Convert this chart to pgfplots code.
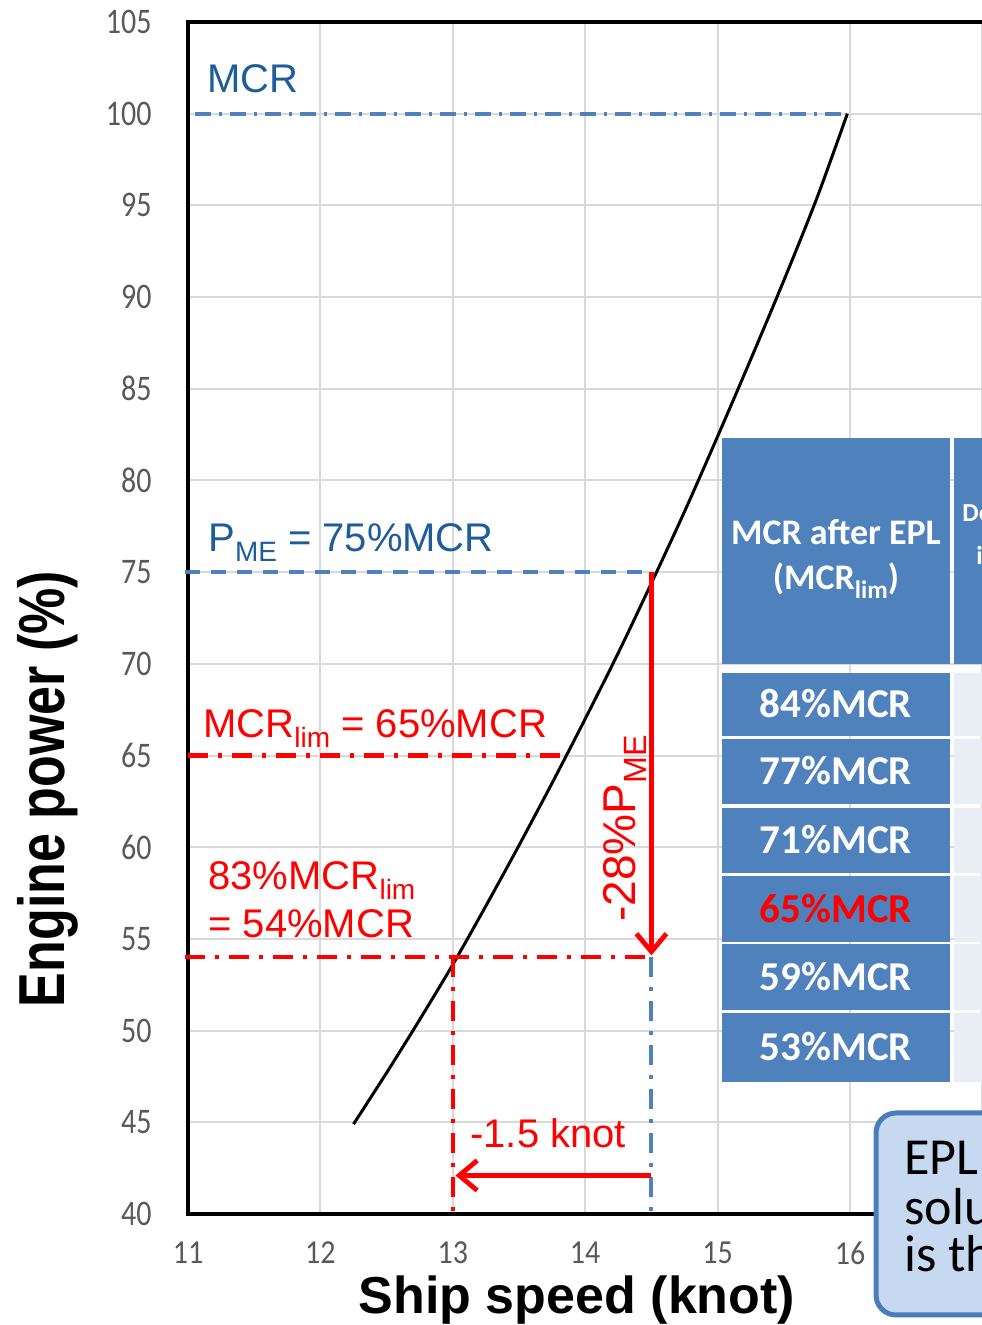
\documentclass[border=0pt]{standalone}
\usepackage{pgfplots}
\pgfplotsset{compat=1.18}
\usetikzlibrary{arrows.meta}
\usepackage{fontspec}
\setmainfont{Liberation Sans}
\newfontfamily\calibri{Carlito}
\definecolor{lineblue}{HTML}{4F81BD}
\definecolor{textblue}{HTML}{1F5C9A}
\definecolor{tickgray}{HTML}{595959}
\definecolor{gridgray}{HTML}{D9D9D9}
\definecolor{celllight}{HTML}{E9EDF4}
\definecolor{boxfill}{HTML}{C6D9F1}
\definecolor{boxedge}{HTML}{4A7EBB}
\newcommand\sub[1]{\raisebox{-0.24em}{\scalebox{0.7}{#1}}}
\newcommand\fs[1]{\fontsize{#1}{#1}\selectfont}

\begin{document}
\begin{tikzpicture}[x=0.5pt,y=0.5pt]
\begin{axis}[
  at={(94pt,55.5pt)}, anchor=south west,
  scale only axis, width=430.3pt, height=596pt,
  xmin=11, xmax=17.5, ymin=40, ymax=105,
  xtick={11,12,...,17}, ytick={40,45,...,105},
  xticklabels={11,12,13,14,15,16,},
  grid=major, grid style={gridgray, line width=1pt},
  axis line style={black, line width=1.6pt},
  major tick length=0pt, tick style={draw=none},
  /pgf/number format/assume math mode=true,
  xticklabel style={font=\calibri\fs{15}, text=tickgray, inner sep=0pt, anchor=north, yshift=-13.5pt, yscale=1.12},
  yticklabel style={font=\calibri\fs{15}, text=tickgray, inner sep=0pt, anchor=east, xshift=-18pt, yscale=1.2},
  clip=false,
]
% propulsion curve
\addplot[black, line width=1.5pt, smooth] coordinates {
  (12.25,44.9) (12.5,47.7) (12.75,50.6) (13,53.6) (13.25,56.8) (13.5,60.1)
  (13.75,63.5) (14,67.0) (14.25,70.6) (14.5,74.4) (14.75,78.3) (15,82.4)
  (15.25,86.6) (15.5,90.9) (15.75,95.4) (15.98,100)};
% reference lines
\addplot[lineblue, line width=2pt, dash pattern=on 8pt off 4pt on 1.5pt off 4pt] coordinates {(11.05,100) (15.97,100)};
\addplot[lineblue, line width=2pt, dash pattern=on 7.5pt off 5.5pt] coordinates {(10.98,75) (14.5,75)};
\addplot[red, line width=2.1pt, dash pattern=on 10pt off 5pt on 2pt off 5pt] coordinates {(11,65) (13.81,65)};
\addplot[red, line width=2.1pt, dash pattern=on 10pt off 5pt on 2pt off 5pt] coordinates {(10.98,54) (14.5,54)};
\addplot[red, line width=2.1pt, dash pattern=on 10pt off 5pt on 2pt off 5pt] coordinates {(13,54) (13,40)};
\addplot[lineblue, line width=2pt, dash pattern=on 10pt off 5pt on 2pt off 5pt] coordinates {(14.5,54) (14.5,40)};
% arrows
\addplot[red, line width=2.4pt, -{Straight Barb[length=9pt,width=15pt]}] coordinates {(14.5,75) (14.5,54.1)};
\addplot[red, line width=2.4pt, -{Straight Barb[length=9pt,width=15pt]}] coordinates {(14.5,42.1) (13.02,42.1)};
\end{axis}

% annotations
\node[textblue, font=\fs{20}, anchor=base west, inner sep=0pt] at (207,1232) {MCR};
\node[textblue, font=\fs{20}, anchor=base west, inner sep=0pt] at (208,773) {P\sub{ME} = 75\%MCR};
\node[red, font=\fs{20}, anchor=base west, inner sep=0pt] at (203,587) {MCR\sub{lim} = 65\%MCR};
\node[red, font=\fs{20}, anchor=base west, inner sep=0pt] at (208,435) {83\%MCR\sub{lim}};
\node[red, font=\fs{20}, anchor=base west, inner sep=0pt] at (208,387) {= 54\%MCR};
\node[red, font=\fs{23}, rotate=90, anchor=base west, inner sep=0pt] at (635,403) {-28\%P\sub{ME}};
\node[red, font=\fs{20}, anchor=base west, inner sep=0pt] at (470,177) {-1.5 knot};

% axis titles
\node[font=\bfseries\fs{26}, anchor=base, inner sep=0pt] at (577,11) {Ship speed (knot)};
\node[font=\bfseries\fs{26}, rotate=90, yscale=1.25, anchor=base, inner sep=0pt] at (64,536) {Engine power (\%)};

% table
\fill[lineblue] (722,887) rectangle (950,661);
\fill[lineblue] (954,887) rectangle (1010,661);
\node[white, font=\calibri\bfseries\fs{18}, anchor=base, inner sep=0pt] at (836,780) {MCR after EPL};
\node[white, font=\calibri\bfseries\fs{18}, anchor=base, inner sep=0pt] at (836,735) {(MCR\sub{lim})};
\node[white, font=\calibri\bfseries\fs{13}, anchor=base west, inner sep=0pt] at (962,803) {Decrease};
\node[white, font=\calibri\bfseries\fs{13}, anchor=base west, inner sep=0pt] at (976,760) {in speed};
\foreach \ya/\yb/\lab/\col in {673/736/84/white, 739/804/77/white, 808/873/71/white, 876/942/65/red, 944/1010/59/white, 1013/1082/53/white} {
  \fill[lineblue] (722,{1325-\ya}) rectangle (950,{1325-\yb});
  \fill[celllight] (954,{1325-\ya}) rectangle (1010,{1325-\yb});
  \node[text=\col, font=\calibri\bfseries\fs{20.5}, anchor=base, inner sep=0pt] at (836,{1325-(\ya+\yb)/2-13.5}) {\lab\%MCR};
}

% callout box
\draw[boxedge, line width=2.5pt, fill=boxfill, rounded corners=10pt] (876,212) rectangle (1200,10);
\node[font=\calibri\fs{26}, anchor=base west, inner sep=0pt] at (904,150) {EPL};
\node[font=\calibri\fs{26}, anchor=base west, inner sep=0pt] at (904,100) {solution};
\node[font=\calibri\fs{26}, anchor=base west, inner sep=0pt] at (904,53) {is the};

\pgfresetboundingbox
\useasboundingbox (0,0) rectangle (981,1325);
\end{tikzpicture}
\end{document}
